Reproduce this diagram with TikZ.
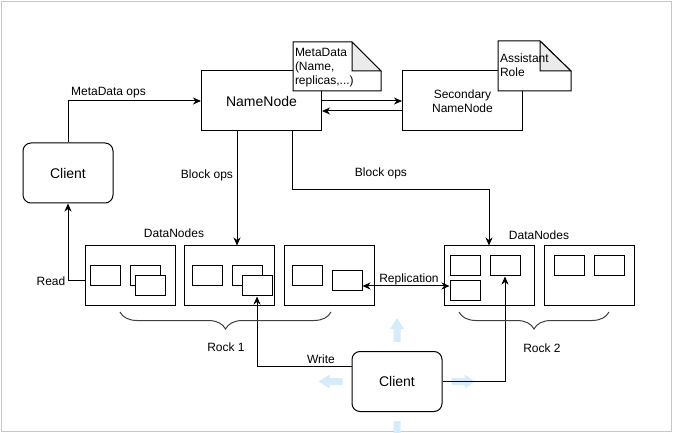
\documentclass[tikz,border=0pt]{standalone}
\usepackage{fontspec}
\setmainfont{Liberation Sans}
\usetikzlibrary{calc}
\usetikzlibrary{arrows.meta}
\usetikzlibrary{decorations.pathreplacing}
\definecolor{hintblue}{RGB}{214,236,250}

\begin{document}
\begin{tikzpicture}[x=1pt,y=-1pt,line width=1pt,>={Stealth[length=8pt,width=7pt,inset=2.5pt]},
  box/.style={draw,fill=white,minimum width=120pt,minimum height=60pt,inner sep=0pt,align=center,font=\fontsize{14}{16}\selectfont},
  client/.style={box,rounded corners=8pt,minimum width=90pt},
  dnode/.style={draw,minimum width=90pt,minimum height=60pt,inner sep=0pt},
  blk/.style={draw,fill=white,minimum width=30pt,minimum height=20pt,inner sep=0pt},
  notetext/.style={anchor=north west,inner sep=1.5pt,align=left,font=\fontsize{12}{14}\selectfont},
  lbl/.style={font=\fontsize{12}{14}\selectfont,inner sep=1pt},
  rack/.style={decorate,decoration={brace,mirror,amplitude=17pt},black!75},
  hint/.style={fill=hintblue}]
  \useasboundingbox (0,0) rectangle (673,433);

  % canvas
  \draw[black!22] (1.5,1.5) rectangle (671.5,431.5);

  \node[box] (nn) at (261.5,101) {NameNode};
  \node[box,font=\fontsize{12}{14}\selectfont] (snn) at (462.5,101) {Secondary\\NameNode};
  \node[client] (c1) at (68,173) {Client};
  \node[client] (c2) at (397,381.5) {Client};

  % notes
  \coordinate (m1) at (293,42);
  \coordinate (m2) at (381,91);
  \draw[fill=white] (m1) -- ($(m1-|m2)+(-29,0)$) -- ($(m1-|m2)+(0,29)$) -- (m2) -- (m1|-m2) -- cycle;
  \draw[fill=black!8] ($(m1-|m2)+(-29,0)$) -- ($(m1-|m2)+(-29,29)$) -- ($(m1-|m2)+(0,29)$) -- cycle;
  \node[notetext] (meta) at ($(m1)+(0,4)$) {MetaData\\(Name,\\replicas,...)};

  \coordinate (a1) at (498,41);
  \coordinate (a2) at (571,91);
  \draw[fill=white] (a1) -- ($(a1-|a2)+(-31,0)$) -- ($(a1-|a2)+(0,30)$) -- (a2) -- (a1|-a2) -- cycle;
  \draw[fill=black!8] ($(a1-|a2)+(-31,0)$) -- ($(a1-|a2)+(-31,30)$) -- ($(a1-|a2)+(0,30)$) -- cycle;
  \node[notetext] (asst) at ($(a1)+(0,11)$) {Assistant\\Role};

  % datanodes
  \node[dnode] (dn1) at (130.5,276) {};
  \node[dnode] (dn2) at (229,276) {};
  \node[dnode] (dn3) at (329,276) {};
  \node[dnode] (dn4) at (489,276) {};
  \node[dnode] (dn5) at (589,276) {};

  \node[blk] (b1a) at (105,276) {};
  \node[blk] (b1b) at (145,276) {};
  \node[blk] (b1c) at (150.5,286) {};
  \node[blk] (b2a) at (207,276) {};
  \node[blk] (b2b) at (247,276) {};
  \node[blk] (b2c) at (257,286) {};
  \node[blk] (b3a) at (307,276) {};
  \node[blk] (b3b) at (347,281) {};
  \node[blk] (b4a) at (465,266) {};
  \node[blk] (b4b) at (505,266) {};
  \node[blk] (b4c) at (465,291) {};
  \node[blk] (b5a) at (569,266) {};
  \node[blk] (b5b) at (609,266) {};

  \node[lbl] (dl1) at (174,233) {DataNodes};
  \node[lbl] (dl2) at (539,235) {DataNodes};

  % hover hints
  \fill[hint,shift={(c2.north)},yshift=9pt,rotate=90] (0,-3.5) -- (13,-3.5) -- (13,-7) -- (24,0) -- (13,7) -- (13,3.5) -- (0,3.5) -- cycle;
  \fill[hint,shift={(c2.east)},xshift=9pt] (0,-3.5) -- (13,-3.5) -- (13,-7) -- (24,0) -- (13,7) -- (13,3.5) -- (0,3.5) -- cycle;
  \fill[hint,shift={(c2.west)},xshift=-9pt,rotate=180] (0,-3.5) -- (13,-3.5) -- (13,-7) -- (24,0) -- (13,7) -- (13,3.5) -- (0,3.5) -- cycle;
  \fill[hint,shift={(c2.south)},yshift=-9pt,rotate=270] (0,-3.5) -- (13,-3.5) -- (13,-7) -- (24,0) -- (13,7) -- (13,3.5) -- (0,3.5) -- cycle;

  % connectors
  \draw[->] (c1.north) |- (nn.west);
  \node[lbl] (mo) at (108.5,93) {MetaData ops};
  \draw[->] (nn.east) -- (snn.west);
  \draw[->] ($(snn.west)+(0,10)$) -- ($(nn.east)+(0,10)$);

  \coordinate (bo1) at ($(dn2.north)+(8,0)$);
  \draw[->] (nn.south -| bo1) -- (bo1);
  \node[lbl] (bl1) at (207,175) {Block ops};
  \draw[->] ($(nn.south east)+(-30,0)$) -- ++(0,58) -| (dn4.north);
  \node[lbl] (bl2) at (381,173) {Block ops};

  \draw[->] ($(dn1.west)+(0,5)$) -| (c1.south);
  \node[lbl] (rd) at (51,281) {Read};
  \draw[<->] ($(b3b.east)+(0,5)$) -- ($(b4c.west)+(0,-5)$);
  \node[lbl] (rp) at (409,279) {Replication};

  \draw[->] ($(c2.west)+(0,-15)$) -| (b2c.south);
  \node[lbl] (wr) at (321,359) {Write};
  \draw[->] (c2.east) -| (b4b.south);

  % racks
  \draw[rack] (120,312) -- (331,312);
  \node[lbl] (r1) at (226,347) {Rock 1};
  \draw[rack] (459,312) -- (609,312);
  \node[lbl] (r2) at (542,348) {Rock 2};
\end{tikzpicture}
\end{document}
